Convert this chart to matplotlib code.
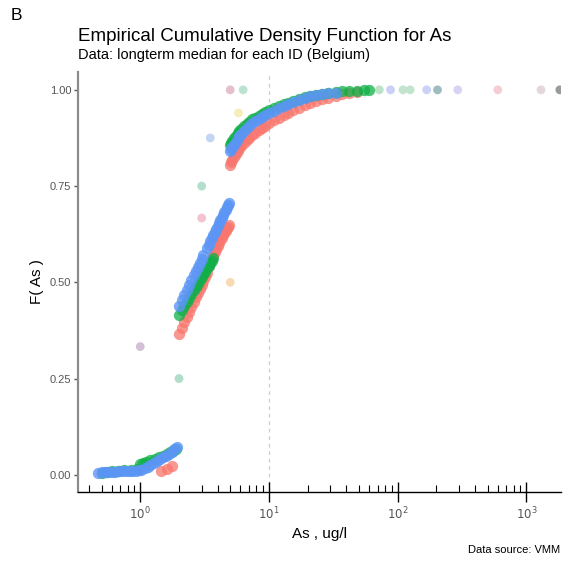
import matplotlib
matplotlib.use("Agg")
import matplotlib.pyplot as plt
from matplotlib.ticker import FixedLocator, NullFormatter

plt.rcParams['font.family'] = ['Liberation Sans', 'DejaVu Sans']

# --- data: ECDF points per station group (As, ug/l  ->  F(As)) ---
red_x = [1.45, 1.6, 1.75,
         2.0, 2.1, 2.2, 2.3, 2.4, 2.5, 2.6, 2.7, 2.8, 2.9, 3.0, 3.1, 3.2, 3.3,
         3.4, 3.5, 3.6, 3.7, 3.8, 3.9, 4.0, 4.1, 4.2, 4.3, 4.4, 4.5, 4.6, 4.7, 4.8, 4.9,
         5.0, 5.1, 5.2, 5.35, 5.5, 5.7, 5.9, 6.1, 6.4, 6.7, 7.0, 7.4, 7.8, 8.3, 8.8, 9.4,
         10, 11, 12, 13, 14, 15.5, 17, 19, 21, 23, 26, 29, 33, 37, 42, 48]
red_f = [0.010, 0.016, 0.022,
         0.367, 0.382, 0.396, 0.411, 0.424, 0.437, 0.449, 0.461, 0.472, 0.483, 0.494, 0.504, 0.514, 0.524,
         0.543, 0.552, 0.561, 0.570, 0.578, 0.586, 0.594, 0.602, 0.609, 0.616, 0.622, 0.628, 0.634, 0.640, 0.645, 0.650,
         0.805, 0.812, 0.818, 0.826, 0.833, 0.842, 0.849, 0.855, 0.863, 0.870, 0.876, 0.883, 0.889, 0.895, 0.901, 0.907,
         0.913, 0.921, 0.928, 0.934, 0.940, 0.947, 0.953, 0.960, 0.966, 0.970, 0.976, 0.980, 0.985, 0.988, 0.991, 0.994]

green_x = [0.5, 0.55, 0.6, 0.67, 0.75, 0.85, 0.95,
           1.0, 1.05, 1.1, 1.2, 1.3, 1.4, 1.5, 1.6, 1.7, 1.8, 1.9,
           2.0, 2.1, 2.2, 2.3, 2.4, 2.5, 2.6, 2.7, 2.8, 2.9, 3.0, 3.1, 3.2, 3.3, 3.4, 3.5, 3.6, 3.7,
           5.0, 5.1, 5.2, 5.35, 5.5, 5.7, 5.9, 6.1, 6.4, 6.7, 7.0, 7.4, 7.8, 8.3, 8.8, 9.4,
           10, 11, 12, 13, 14, 15.5, 17, 19, 21, 23, 26, 29, 33, 37, 42, 48, 55, 60]
green_f = [0.005, 0.007, 0.009, 0.011, 0.012, 0.013, 0.015,
           0.028, 0.031, 0.034, 0.038, 0.042, 0.046, 0.050, 0.054, 0.058, 0.062, 0.066,
           0.416, 0.428, 0.439, 0.450, 0.459, 0.469, 0.479, 0.488, 0.496, 0.505, 0.513, 0.521, 0.528, 0.536, 0.543, 0.550, 0.556, 0.563,
           0.857, 0.863, 0.868, 0.875, 0.881, 0.888, 0.894, 0.899, 0.906, 0.912, 0.917, 0.923, 0.928, 0.933, 0.938, 0.943,
           0.947, 0.953, 0.958, 0.962, 0.966, 0.971, 0.976, 0.981, 0.984, 0.987, 0.990, 0.992, 0.994, 0.996, 0.997, 0.998, 0.999, 1.0]

blue_x = [0.47, 0.5, 0.53, 0.56, 0.6, 0.64, 0.68, 0.72, 0.77, 0.82, 0.87, 0.92, 0.97,
          1.02, 1.08, 1.14, 1.2, 1.27, 1.34, 1.42, 1.5, 1.58, 1.66, 1.75, 1.84, 1.93,
          2.0, 2.1, 2.2, 2.3, 2.4, 2.5, 2.6, 2.7, 2.8, 2.9, 3.0, 3.1, 3.3,
          3.4, 3.5, 3.6, 3.7, 3.8, 3.9, 4.0, 4.1, 4.2, 4.3, 4.4, 4.5, 4.6, 4.7, 4.8, 4.9,
          5.0, 5.1, 5.2, 5.35, 5.5, 5.7, 5.9, 6.1, 6.4, 6.7, 7.0, 7.4, 7.8, 8.3, 8.8, 9.4,
          10, 11, 12, 13, 14, 15.5, 17, 19, 21, 23, 26, 29, 33]
blue_f = [0.005, 0.006, 0.007, 0.007, 0.008, 0.008, 0.009, 0.009, 0.010, 0.010, 0.011, 0.011, 0.012,
          0.013, 0.017, 0.021, 0.025, 0.030, 0.035, 0.040, 0.045, 0.050, 0.055, 0.060, 0.066, 0.072,
          0.439, 0.454, 0.468, 0.481, 0.494, 0.506, 0.518, 0.529, 0.540, 0.550, 0.561, 0.570, 0.589,
          0.598, 0.607, 0.615, 0.623, 0.631, 0.639, 0.647, 0.654, 0.661, 0.668, 0.675, 0.682, 0.688, 0.695, 0.701, 0.707,
          0.840, 0.846, 0.851, 0.858, 0.864, 0.872, 0.879, 0.885, 0.893, 0.900, 0.906, 0.913, 0.919, 0.925, 0.930, 0.935,
          0.939, 0.946, 0.952, 0.957, 0.962, 0.968, 0.973, 0.979, 0.983, 0.986, 0.989, 0.991, 0.993]

# small station groups (few observations each)
minor_x = [1.0, 2.0, 3.0, 3.0, 5.0, 3.5, 5.0, 6.3, 5.8,
           72, 88, 110, 125, 168, 204, 293, 600, 1300, 1820]
minor_f = [0.333, 0.25, 0.667, 0.75, 0.5, 0.875, 1.0, 1.0, 0.94,
           1.0, 1.0, 1.0, 1.0, 1.0, 1.0, 1.0, 1.0, 1.0, 1.0]
minor_colors = ['#d3c0d6', '#b0dec9', '#f5c2d0', '#b2e0cc', '#f8dbb5', '#c2d5f2', '#e5bfcd', '#bbe3d2', '#f5eebb',
                '#bbe3c8', '#cbd0f5', '#c2e4cf', '#c2e4cf', '#ccd2f5', '#9fbcc1', '#d8d3f5', '#f6cdd2', '#e3d6dc', '#9a9a9a']

decades = [1, 10, 100, 1000]
dec_labels = [r'$10^0$', r'$10^1$', r'$10^2$', r'$10^3$']
y_ticks = [0.0, 0.25, 0.5, 0.75, 1.0]
y_labels = ['0.00', '0.25', '0.50', '0.75', '1.00']
threshold = 10

fig = plt.figure(figsize=(5.66, 5.65), dpi=100)
ax = fig.add_axes([0.138, 0.129, 0.853, 0.744])
ax.set_xscale('log')

ax.axvline(threshold, color='#cccccc', linestyle=(0, (3, 3)), linewidth=0.9, zorder=0)

ax.scatter(minor_x, minor_f, s=40, c=minor_colors, linewidths=0, zorder=1)
ax.scatter(red_x, red_f, s=66, color='#F8766D', alpha=0.75, linewidths=0, zorder=2)
ax.scatter(green_x, green_f, s=66, color='#10B048', alpha=0.75, linewidths=0, zorder=3)
ax.scatter(blue_x, blue_f, s=66, color='#5B95F5', alpha=0.8, linewidths=0, zorder=4)

ax.set_xlim(0.329, 1855)
ax.set_ylim(-0.045, 1.047)

# axes styling (ggplot classic-like)
for side in ['top', 'right']:
    ax.spines[side].set_visible(False)
ax.spines['left'].set_color('#8c8c8c')
ax.spines['left'].set_linewidth(1.6)
ax.spines['bottom'].set_color('black')
ax.spines['bottom'].set_linewidth(1.0)

ax.set_yticks(y_ticks)
ax.set_yticklabels(y_labels)
ax.tick_params(axis='y', direction='out', length=3, width=1, color='#555555',
               labelsize=8, labelcolor='#555555', pad=2)

ax.xaxis.set_major_locator(FixedLocator(decades))
ax.set_xticklabels(dec_labels)
minor_pos = [m * d for d in [0.1, 1, 10, 100, 1000] for m in range(2, 10)]
ax.xaxis.set_minor_locator(FixedLocator(minor_pos))
ax.xaxis.set_minor_formatter(NullFormatter())
ax.tick_params(axis='x', which='major', direction='inout', length=14, width=1.0,
               color='black', labelsize=8.5, labelcolor='#555555', pad=3)
ax.tick_params(axis='x', which='minor', direction='in', length=5, width=0.8, color='black')

ax.set_xlabel('As , ug/l', fontsize=11, labelpad=3)
ax.set_ylabel('F( As )', fontsize=11, labelpad=4)

fig.text(0.138, 0.927, 'Empirical Cumulative Density Function for As', fontsize=13.5,
         ha='left', va='baseline')
fig.text(0.138, 0.895, 'Data: longterm median for each ID (Belgium)', fontsize=10.5,
         ha='left', va='baseline')
fig.text(0.018, 0.965, 'B', fontsize=12.5, ha='left', va='baseline')
fig.text(0.99, 0.022, 'Data source: VMM', fontsize=8, ha='right', va='baseline')

fig.savefig('out.png', dpi=100)
